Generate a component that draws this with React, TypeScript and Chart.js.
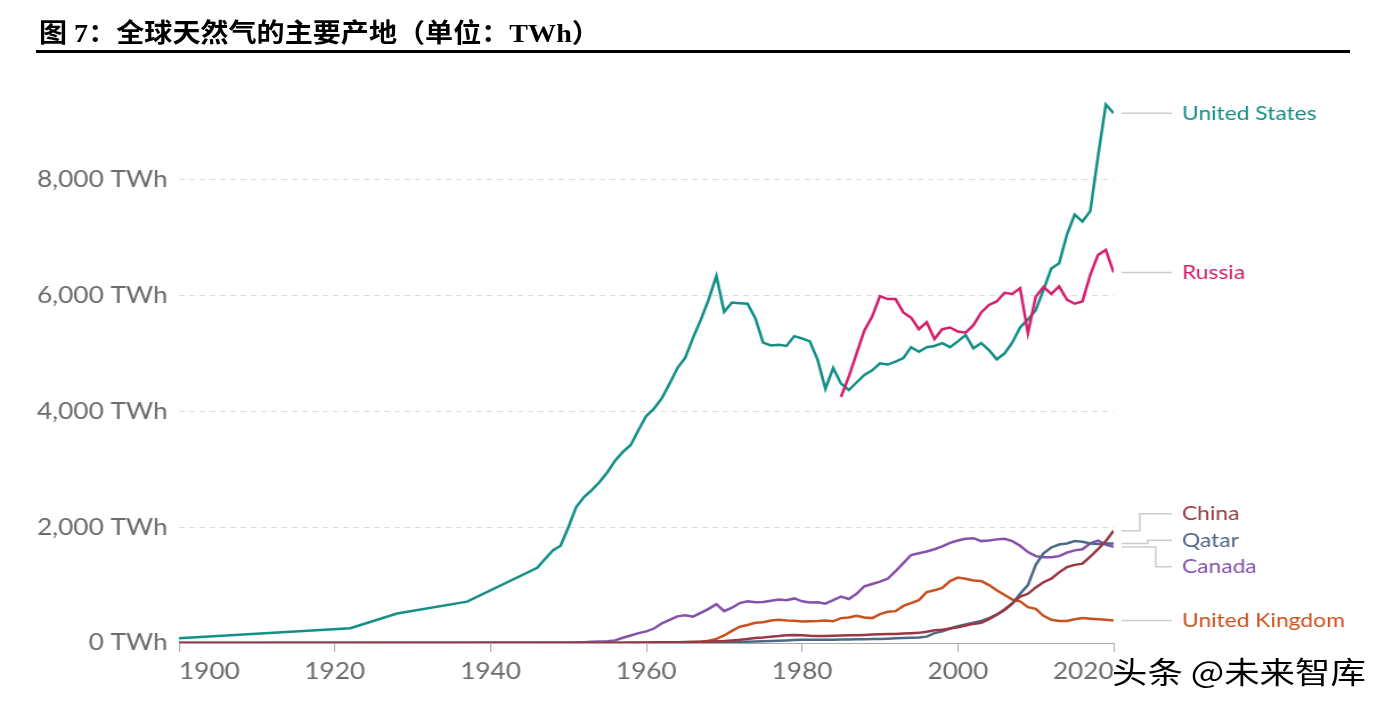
import React, { useEffect, useRef } from "react";
import { Chart, registerables } from "chart.js";
Chart.register(...registerables);

const titleText = "图 7：全球天然气的主要产地（单位：TWh）";
const watermarkText = "头条 @未来智库";

const range = (a: number, b: number) => { const r: number[] = []; for (let y = a; y <= b; y++) r.push(y); return r; };

// United States
const usYears = [1900, 1922, 1928, 1937, ...range(1946, 2020)];
const usValues = [80, 255, 510, 715,
  /*1946-49*/ 1300, 1450, 1600, 1680,
  /*1950-59*/ 2000, 2350, 2520, 2640, 2780, 2950, 3150, 3300, 3420, 3680,
  /*1960-69*/ 3920, 4050, 4230, 4480, 4750, 4930, 5270, 5580, 5930, 6340,
  /*1970-79*/ 5720, 5880, 5870, 5860, 5610, 5190, 5140, 5150, 5130, 5300,
  /*1980-89*/ 5260, 5210, 4890, 4390, 4750, 4480, 4370, 4500, 4630, 4710,
  /*1990-99*/ 4830, 4810, 4860, 4920, 5110, 5030, 5110, 5130, 5180, 5110,
  /*2000-09*/ 5210, 5320, 5090, 5180, 5060, 4900, 5000, 5190, 5450, 5590,
  /*2010-20*/ 5750, 6100, 6470, 6560, 7050, 7400, 7280, 7460, 8400, 9300, 9150];

// Russia
const ruYears = range(1985, 2020);
const ruValues = [
  /*1985-89*/ 4250, 4600, 5000, 5400, 5640,
  /*1990-99*/ 5990, 5940, 5940, 5710, 5620, 5420, 5540, 5250, 5420, 5450,
  /*2000-09*/ 5380, 5360, 5490, 5710, 5840, 5900, 6050, 6030, 6130, 5350,
  /*2010-20*/ 5980, 6150, 6030, 6160, 5930, 5860, 5900, 6360, 6700, 6790, 6400];

// China
const cnYears = [1900, ...range(1950, 2020)];
const cnValues = [0,
  /*1950-59*/ 0, 0, 1, 1, 2, 2, 3, 5, 7, 9,
  /*1960-69*/ 10, 12, 13, 14, 15, 18, 20, 22, 25, 30,
  /*1970-79*/ 35, 45, 55, 70, 85, 95, 110, 120, 135, 140,
  /*1980-89*/ 135, 125, 120, 120, 125, 130, 135, 135, 140, 145,
  /*1990-99*/ 150, 155, 155, 165, 170, 175, 195, 220, 230, 250,
  /*2000-09*/ 270, 300, 330, 350, 410, 490, 580, 690, 800, 850,
  /*2010-20*/ 960, 1050, 1110, 1220, 1310, 1350, 1370, 1490, 1620, 1760, 1940];

// Qatar
const qaYears = [1900, ...range(1950, 2020)];
const qaValues = [0,
  /*1950-59*/ 0, 0, 0, 0, 0, 0, 0, 0, 1, 1,
  /*1960-69*/ 2, 2, 3, 3, 4, 5, 6, 7, 8, 9,
  /*1970-79*/ 10, 14, 18, 22, 26, 30, 35, 40, 45, 50,
  /*1980-89*/ 55, 55, 56, 57, 58, 60, 62, 64, 66, 68,
  /*1990-99*/ 70, 75, 80, 85, 90, 95, 110, 170, 200, 250,
  /*2000-09*/ 290, 320, 350, 380, 430, 490, 570, 680, 850, 1000,
  /*2010-20*/ 1350, 1550, 1650, 1700, 1720, 1760, 1750, 1720, 1710, 1720, 1720];

// Canada
const caYears = [1900, ...range(1950, 2020)];
const caValues = [0,
  /*1950-59*/ 10, 12, 15, 20, 25, 30, 45, 90, 130, 170,
  /*1960-69*/ 200, 250, 340, 400, 460, 480, 455, 520, 590, 670,
  /*1970-79*/ 550, 610, 690, 720, 705, 710, 730, 750, 740, 770,
  /*1980-89*/ 720, 700, 705, 680, 740, 800, 760, 850, 980, 1020,
  /*1990-99*/ 1060, 1110, 1240, 1380, 1520, 1550, 1580, 1620, 1670, 1730,
  /*2000-09*/ 1770, 1800, 1810, 1760, 1770, 1790, 1800, 1760, 1680, 1570,
  /*2010-20*/ 1500, 1480, 1480, 1500, 1560, 1600, 1620, 1720, 1770, 1700, 1660];

// United Kingdom
const ukYears = [1900, ...range(1950, 2020)];
const ukValues = [0,
  /*1950-59*/ 0, 0, 0, 0, 0, 0, 0, 0, 0, 0,
  /*1960-69*/ 2, 2, 3, 3, 4, 5, 10, 20, 40, 70,
  /*1970-79*/ 130, 210, 280, 310, 350, 360, 390, 400, 390, 385,
  /*1980-89*/ 370, 375, 380, 390, 375, 430, 440, 470, 440, 430,
  /*1990-99*/ 500, 540, 550, 640, 690, 740, 880, 910, 950, 1070,
  /*2000-09*/ 1130, 1110, 1080, 1070, 1000, 910, 830, 750, 720, 620,
  /*2010-20*/ 590, 470, 400, 380, 380, 410, 430, 420, 410, 400, 390];

const seriesNames = ["China", "Qatar", "United Kingdom", "Canada", "Russia", "United States"];
const seriesColors = ["#9a3743", "#4e6887", "#c8511d", "#8650ad", "#d4206e", "#138f86"];
const seriesYears = [cnYears, qaYears, ukYears, caYears, ruYears, usYears];
const seriesValues = [cnValues, qaValues, ukValues, caValues, ruValues, usValues];

const xTicks = [1900, 1920, 1940, 1960, 1980, 2000, 2020];
const yTicks = [0, 2000, 4000, 6000, 8000];

// the reference image is stretched horizontally; the canvas is drawn narrower and widened
const STRETCH = 1386 / 1216;
const CANVAS_W = 1216;

const endLabels = {
  id: "endLabels",
  afterDatasetsDraw(chart: any) {
    const ctx = chart.ctx;
    const area = chart.chartArea;
    const items: any[] = [];
    chart.data.datasets.forEach((ds: any, i: number) => {
      const meta = chart.getDatasetMeta(i);
      const pt = meta.data[meta.data.length - 1];
      items.push({ name: ds.label, color: ds.borderColor, y0: pt.y, y: pt.y });
    });
    items.sort((a, b) => a.y0 - b.y0);
    const h = 26.5;
    const groups: any[] = items.map((it) => ({ items: [it], center: it.y0 }));
    let merged = true;
    while (merged) {
      merged = false;
      for (let i = 0; i < groups.length - 1; i++) {
        const a = groups[i], b = groups[i + 1];
        const aBottom = a.center + (a.items.length * h) / 2;
        const bTop = b.center - (b.items.length * h) / 2;
        if (aBottom > bTop) {
          const all = [...a.items, ...b.items];
          const c = all.reduce((s: number, it: any) => s + it.y0, 0) / all.length;
          groups.splice(i, 2, { items: all, center: c });
          merged = true;
          break;
        }
      }
    }
    groups.forEach((g) => {
      const top = g.center - (g.items.length * h) / 2;
      g.items.forEach((it: any, k: number) => { it.y = top + h * (k + 0.5); });
    });
    const x0 = area.right + 7;
    const x1 = area.right + 51;
    ctx.save();
    ctx.lineWidth = 1.5;
    ctx.strokeStyle = "#cccccc";
    items.forEach((it) => {
      const d = it.y - it.y0;
      const xe = d < -6 ? x0 + 16 : d > 6 ? x0 + 30 : x0 + 23;
      ctx.beginPath();
      ctx.moveTo(x0, it.y0);
      ctx.lineTo(xe, it.y0);
      ctx.lineTo(xe, it.y);
      ctx.lineTo(x1, it.y);
      ctx.stroke();
    });
    ctx.font = "20px Lato";
    ctx.textBaseline = "middle";
    ctx.textAlign = "left";
    items.forEach((it) => {
      ctx.fillStyle = it.color;
      ctx.fillText(it.name, x1 + 9, it.y);
    });
    ctx.restore();
  },
};

export default function App() {
  const ref = useRef<HTMLCanvasElement>(null);
  useEffect(() => {
    if (!ref.current) return;
    const chart = new Chart(ref.current, {
      type: "line",
      data: {
        datasets: seriesNames.map((name, i) => ({
          label: name,
          data: seriesYears[i].map((yr, k) => ({ x: yr, y: seriesValues[i][k] })),
          borderColor: seriesColors[i],
          backgroundColor: seriesColors[i],
          borderWidth: 2.5,
          pointRadius: 0,
          tension: 0,
          fill: false,
        })),
      },
      options: {
        animation: false,
        responsive: false,
        devicePixelRatio: 1,
        events: [],
        layout: { padding: { left: 0, right: 239, top: 93, bottom: 0 } },
        plugins: { legend: { display: false }, tooltip: { enabled: false } },
        scales: {
          x: {
            type: "linear",
            min: 1900,
            max: 2020,
            afterBuildTicks: (s: any) => { s.ticks = xTicks.map((v) => ({ value: v })); },
            afterFit: (s: any) => { s.height = 68; },
            ticks: {
              align: "inner",
              color: "#6b6b6b",
              font: { family: "Lato", size: 23 },
              padding: 6,
              callback: (v: any) => String(v),
            },
            grid: { drawOnChartArea: false, drawTicks: true, tickLength: 9, color: "#a8a8a8" },
            border: { display: true, color: "#a8a8a8", width: 1 },
          },
          y: {
            type: "linear",
            min: 0,
            max: 9500,
            afterBuildTicks: (s: any) => { s.ticks = yTicks.map((v) => ({ value: v })); },
            afterFit: (s: any) => { s.width = 157; },
            ticks: {
              color: "#6b6b6b",
              font: { family: "Lato", size: 23 },
              padding: 10,
              callback: (v: any) => Number(v).toLocaleString("en-US") + " TWh",
            },
            grid: {
              drawTicks: false,
              color: (c: any) => (c.tick && c.tick.value === 0 ? "rgba(0,0,0,0)" : "#dcdcdc"),
              lineWidth: 1,
            },
            border: { display: false, dash: [5, 4] },
          },
        },
      },
      plugins: [endLabels],
    } as any);
    return () => chart.destroy();
  }, []);

  return (
    <div style={{ position: "fixed", left: 0, top: 0, width: 1386, height: 711, background: "#fff", overflow: "hidden" }}>
      <div style={{ position: "absolute", left: 0, top: 0, width: CANVAS_W, height: 711, transform: `scaleX(${STRETCH})`, transformOrigin: "0 0" }}>
        <canvas ref={ref} width={CANVAS_W} height={711} style={{ display: "block", width: CANVAS_W, height: 711 }} />
      </div>
      <div
        style={{
          position: "absolute", left: 39, top: 12, fontSize: 26, fontWeight: 700, color: "#000",
          fontFamily: '"Liberation Serif", "Noto Sans CJK SC", serif', whiteSpace: "nowrap",
          transform: "scaleX(1.08)", transformOrigin: "left center",
        }}
      >
        {titleText}
      </div>
      <div style={{ position: "absolute", left: 36, top: 50, width: 1314, height: 3, background: "#000" }} />
      <div
        style={{
          position: "absolute", left: 1112, top: 648, fontSize: 30, color: "#000",
          fontFamily: '"Noto Sans CJK SC", sans-serif', whiteSpace: "nowrap",
          textShadow: "1px 1px 0 #fff, -1px -1px 0 #fff, 1px -1px 0 #fff, -1px 1px 0 #fff",
          transform: "scaleX(1.18)", transformOrigin: "left center",
        }}
      >
        {watermarkText}
      </div>
    </div>
  );
}
